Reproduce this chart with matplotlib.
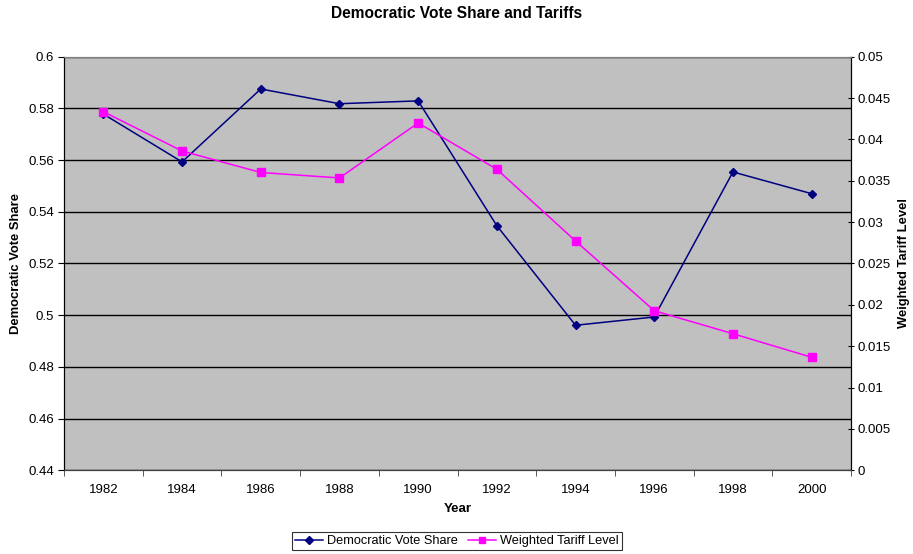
import matplotlib
matplotlib.use("Agg")
import matplotlib.pyplot as plt
from matplotlib.lines import Line2D

plt.rcParams['font.family'] = ['Liberation Sans', 'DejaVu Sans']

years = ['1982', '1984', '1986', '1988', '1990', '1992', '1994', '1996', '1998', '2000']
vote_share = [0.5778, 0.5593, 0.5875, 0.5818, 0.5829, 0.5346, 0.4961, 0.4993, 0.5554, 0.5470]
tariff = [0.04335, 0.0386, 0.0360, 0.03534, 0.04199, 0.03639, 0.02772, 0.01929, 0.01651, 0.01366]

NAVY = '#000080'
PINK = '#FF00FF'

fig = plt.figure(figsize=(9.13, 5.54), dpi=100)
ax = fig.add_axes([0.0701, 0.1511, 0.8620, 0.7466])
ax.set_facecolor('#C0C0C0')
x = list(range(len(years)))

ax.plot(x, vote_share, color=NAVY, marker='D', markersize=4, linewidth=1.1, zorder=3)
ax.set_xlim(-0.5, len(years) - 0.5)
ax.set_ylim(0.44, 0.6)
ax.set_yticks([0.44 + 0.02 * i for i in range(9)])
ax.set_yticklabels(['0.44', '0.46', '0.48', '0.5', '0.52', '0.54', '0.56', '0.58', '0.6'])
ax.yaxis.grid(True, color='black', linewidth=1)
ax.set_axisbelow(True)

# category axis: labels centred, ticks on boundaries
ax.set_xticks(x)
ax.set_xticklabels(years)
ax.tick_params(axis='x', length=0, pad=10, labelsize=9.5)
ax.set_xticks([i - 0.5 for i in range(len(years) + 1)], minor=True)
ax.tick_params(axis='x', which='minor', length=4, color='#404040', direction='out')
ax.tick_params(axis='y', length=4, direction='out', labelsize=9.5, pad=3)

ax2 = ax.twinx()
ax2.plot(x, tariff, color=PINK, marker='s', markersize=6, linewidth=1.1, zorder=3)
ax2.set_ylim(0, 0.05)
ax2.set_yticks([0.005 * i for i in range(11)])
ax2.set_yticklabels(['0', '0.005', '0.01', '0.015', '0.02', '0.025', '0.03', '0.035', '0.04', '0.045', '0.05'])
ax2.tick_params(axis='y', length=4, direction='inout', labelsize=9.5, pad=3)

for a in (ax, ax2):
    a.spines['top'].set_color('#808080')
    a.spines['bottom'].set_color('#404040')
    a.spines['left'].set_color('black')
    a.spines['right'].set_color('black')

ax.set_ylabel('Democratic Vote Share', fontsize=9.4, fontweight='bold', labelpad=5)
ax2.set_ylabel('Weighted Tariff Level', fontsize=9.4, fontweight='bold', labelpad=5)
ax.set_xlabel('Year', fontsize=9.6, fontweight='bold', labelpad=5)
fig.suptitle('Democratic Vote Share and Tariffs', fontsize=11.2, fontweight='bold', y=0.99)

handles = [Line2D([], [], color=NAVY, marker='D', markersize=4, linewidth=1.1),
           Line2D([], [], color=PINK, marker='s', markersize=5, linewidth=1.1)]
leg = fig.legend(handles, ['Democratic Vote Share', 'Weighted Tariff Level'],
                 loc='center', bbox_to_anchor=(0.5, 0.023), ncol=2, fontsize=9.2,
                 frameon=True, fancybox=False, edgecolor='black', handlelength=2.2,
                 handletextpad=0.3, columnspacing=0.8, borderpad=0.25)
leg.get_frame().set_linewidth(0.8)

fig.savefig('out.png', dpi=100)
